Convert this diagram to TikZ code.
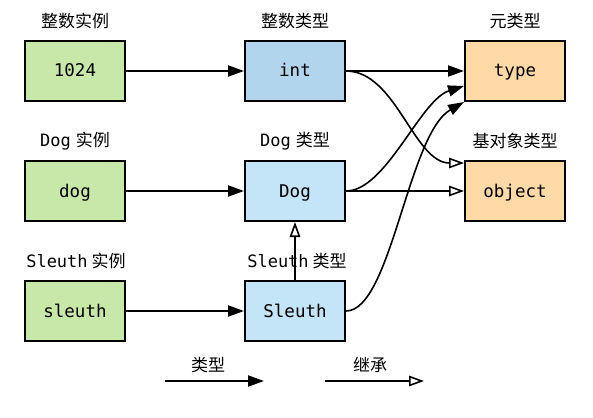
\documentclass[tikz,border=0pt]{standalone}
\usepackage{fontspec}
\setmonofont{DejaVu Sans Mono}
\newfontfamily\cjk{Noto Sans CJK SC}
\usetikzlibrary{arrows.meta,calc}
\definecolor{instgreen}{RGB}{200,232,170}
\definecolor{intblue}{RGB}{178,213,238}
\definecolor{clsblue}{RGB}{196,228,247}
\definecolor{metaorange}{RGB}{255,218,166}
\tikzset{
  box/.style={draw=black, line width=2pt, minimum width=100pt, minimum height=60pt, inner sep=0pt,
    text height=13pt, text depth=1pt,
    font=\ttfamily\fontsize{17.5}{20}\selectfont},
  lbl/.style={inner sep=0pt, font=\fontsize{17}{20}\selectfont},
  typ/.style={line width=2pt, -{Triangle[length=16pt,width=11pt]}},
  typc/.style={line width=1.6pt, -{Triangle[length=16pt,width=11pt]}},
  inh/.style={line width=2pt, -{Triangle[open,length=15pt,width=10.5pt,fill=white,line width=1.6pt]}},
  inhc/.style={line width=1.6pt, -{Triangle[open,length=15pt,width=10.5pt,fill=white,line width=1.6pt]}},
}
\begin{document}
\begin{tikzpicture}[x=1pt,y=1pt]
\useasboundingbox (0,0) rectangle (593,-417);
% boxes
\node[box, fill=instgreen] (n1024) at (75,-71) {1024};
\node[box, fill=instgreen] (ndog) at (75,-191) {dog};
\node[box, fill=instgreen] (nsleuth) at (75,-311) {sleuth};
\node[box, fill=intblue] (nint) at (295,-71) {int};
\node[box, fill=clsblue] (nDog) at (295,-191) {Dog};
\node[box, fill=clsblue] (nSleuth) at (295,-311) {Sleuth};
\node[box, fill=metaorange] (ntype) at (515,-71) {type};
\node[box, fill=metaorange] (nobject) at (515,-191) {object};
% labels
\node[lbl] (l1) at (75,-21) {\cjk 整数实例};
\node[lbl] (l2) at (295,-21) {\cjk 整数类型};
\node[lbl] (l3) at (515,-21) {\cjk 元类型};
\node[lbl] (l4) at (75,-141) {\ttfamily Dog\hspace{5pt}\cjk 实例};
\node[lbl] (l5) at (295,-141) {\ttfamily Dog\hspace{5pt}\cjk 类型};
\node[lbl] (l6) at (515,-141) {\cjk 基对象类型};
\node[lbl] (l7) at (76,-261) {\ttfamily Sleuth\hspace{4pt}\cjk 实例};
\node[lbl] (l8) at (297,-261) {\ttfamily Sleuth\hspace{4pt}\cjk 类型};
% connector ends
\coordinate (objin) at ($(nobject.north west)+(0,-3)$);
\coordinate (typein) at ($(ntype.west)+(0,-15)$);
% straight arrows
\draw[typ] (n1024) -- (nint);
\draw[typ] (ndog) -- (nDog);
\draw[typ] (nsleuth) -- (nSleuth);
\draw[typ] (nint) -- (ntype);
\draw[inh] (nDog) -- (nobject);
\draw[inh] (nSleuth) -- (nDog);
% curves
\draw[inhc] (nint.east) .. controls +(50,0) and +(-50,0) .. (objin);
\draw[typc] (nDog.east) .. controls +(40,0) and +(-44,-14) .. (typein);
\draw[typc] (nSleuth.east) .. controls +(45,0) and +(-56,-32) .. (ntype.south west);
% legend
\coordinate (lg1s) at (165,-381);
\coordinate (lg1e) at (264,-381);
\coordinate (lg2s) at (325,-381);
\coordinate (lg2e) at (424,-381);
\draw[typ] (lg1s) -- (lg1e);
\draw[inh] (lg2s) -- (lg2e);
\node[lbl] (lg1t) at (208,-365) {\cjk 类型};
\node[lbl] (lg2t) at (370,-365) {\cjk 继承};
\end{tikzpicture}
\end{document}
